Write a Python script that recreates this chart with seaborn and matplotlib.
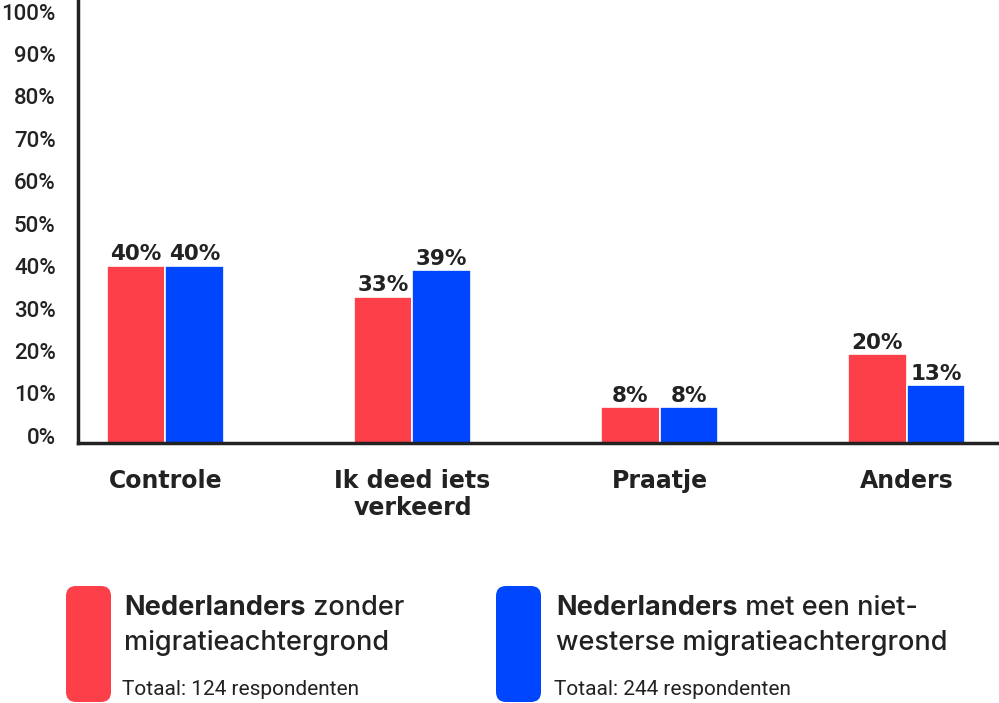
import pandas as pd
import matplotlib.pyplot as plt
import seaborn as sns
from matplotlib.patches import FancyBboxPatch

# data
categories = ['Controle', 'Ik deed iets\nverkeerd', 'Praatje', 'Anders']
groups = ['zonder', 'met']
zonder_migratie = [40, 33, 8, 20]
met_migratie = [40, 39, 8, 13]
y_ticks = [0, 10, 20, 30, 40, 50, 60, 70, 80, 90, 100]

red = '#fc3f48'
blue = '#0046ff'
ink = '#222222'

df = pd.DataFrame({
    'categorie': categories * 2,
    'groep': [groups[0]] * 4 + [groups[1]] * 4,
    'waarde': zonder_migratie + met_migratie,
})

sns.set_style('white')
plt.rcParams['font.family'] = ['Roboto', 'DejaVu Sans']
heavy = dict(family='DejaVu Sans', fontweight='heavy')

fig = plt.figure(figsize=(9.99, 7.03), dpi=100)
ax = fig.add_axes([0.078, 0.37, 0.922, 0.63])

sns.barplot(data=df, x='categorie', y='waarde', hue='groep', order=categories,
            hue_order=groups, palette=[red, blue], width=0.475, saturation=1,
            edgecolor='white', linewidth=1.2, legend=False, ax=ax)

for cont in ax.containers:
    ax.bar_label(cont, fmt='%d%%', padding=1, fontsize=15.5, color=ink, **heavy)

ax.set_ylim(0, 100)
ax.set_xlim(-0.354, 3.374)
# the tick labels in the original sit on a slightly compressed scale
ax.set_yticks([1.6 + t * 0.958 for t in y_ticks])
ax.set_yticklabels([f'{t}%' for t in y_ticks], fontsize=16, color=ink,
                   fontweight='medium')
ax.set_xticklabels(categories, fontsize=17, color=ink, linespacing=1.15,
                   **heavy)
ax.tick_params(axis='y', length=0, pad=16)
ax.tick_params(axis='x', length=0, pad=19)
ax.set_xlabel('')
ax.set_ylabel('')

for s in ['top', 'right']:
    ax.spines[s].set_visible(False)
for s in ['left', 'bottom']:
    ax.spines[s].set_color(ink)
    ax.spines[s].set_linewidth(2.5)

# legend blocks
W, H = 999, 703
def legend_block(x_rect, x_text, color, rest1, line2, total):
    box = FancyBboxPatch((x_rect / W, (H - 702) / H), 45 / W, 116 / H,
                         boxstyle='round,pad=0,rounding_size=0.01',
                         transform=fig.transFigure, facecolor=color,
                         edgecolor='none', mutation_aspect=W / H)
    fig.patches.append(box)
    t1 = fig.text(x_text / W, (H - 615) / H, 'Nederlanders', fontsize=19.5,
                  family='Inter', fontweight='bold', color=ink, va='baseline')
    ax.annotate(' ' + rest1, xy=(1, 0), xycoords=t1, va='bottom', ha='left',
                fontsize=19.5, family='Inter', fontweight='medium', color=ink,
                annotation_clip=False)
    fig.text(x_text / W, (H - 650) / H, line2, fontsize=19.5, family='Inter',
             fontweight='medium', color=ink, va='baseline')
    fig.text((x_text - 2) / W, (H - 695) / H, total, fontsize=15,
             fontweight='normal', color=ink, va='baseline')

legend_block(66, 124, red, 'zonder', 'migratieachtergrond',
             'Totaal: 124 respondenten')
legend_block(496, 556, blue, 'met een niet-', 'westerse migratieachtergrond',
             'Totaal: 244 respondenten')

fig.savefig('out.png', dpi=100)
